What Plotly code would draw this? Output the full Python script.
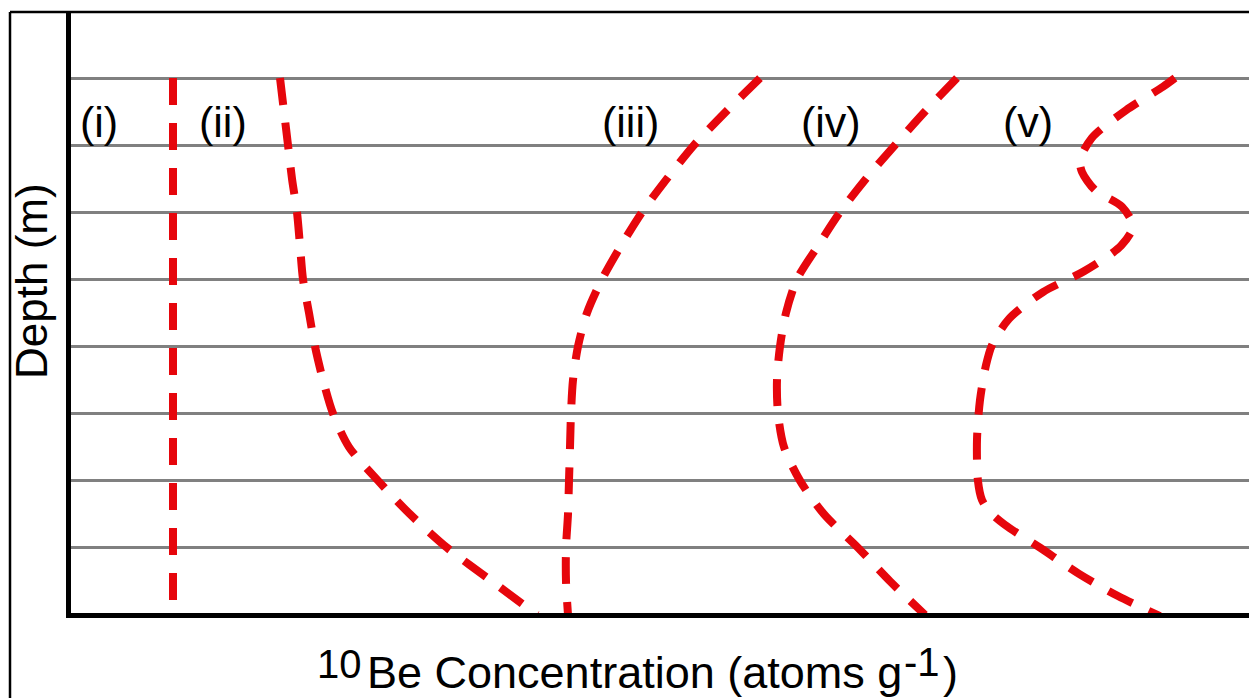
import plotly.graph_objects as go

# ---------------- data (depth in grid units, concentration in arbitrary units) ----------------
depth_i = [0, 7.79]
conc_i = [1.04, 1.04]

depth_half = [0, 0.5, 1, 1.5, 2, 2.5, 3, 3.5, 4, 4.5, 5, 5.5, 6, 6.5, 7, 7.5, 8]
conc_ii = [2.11, 2.15, 2.19, 2.23, 2.28, 2.31, 2.34, 2.40, 2.46, 2.54, 2.64, 2.80, 3.09, 3.41, 3.78, 4.23, 4.68]
conc_iii = [6.91, 6.57, 6.25, 5.98, 5.73, 5.52, 5.33, 5.18, 5.09, 5.04, 5.02, 5.01, 5.00, 4.99, 4.97, 4.97, 4.99]
conc_iv = [8.88, 8.56, 8.26, 7.97, 7.71, 7.49, 7.28, 7.17, 7.11, 7.08, 7.09, 7.15, 7.31, 7.55, 7.89, 8.21, 8.56]

depth_v = [0.00, 0.13, 0.48, 0.89, 1.22, 1.40, 1.67, 1.92, 2.21, 2.50, 2.88, 3.19, 3.59, 3.98, 4.28,
           4.80, 5.39, 6.01, 6.29, 6.47, 6.66, 7.00, 7.39, 7.72, 8.02]
conc_v = [11.06, 10.94, 10.57, 10.23, 10.11, 10.13, 10.26, 10.53, 10.64, 10.52, 10.15, 9.74, 9.40, 9.23, 9.17,
          9.11, 9.08, 9.09, 9.13, 9.21, 9.36, 9.71, 10.10, 10.49, 10.91]

curve_labels = ["(i)", "(ii)", "(iii)", "(iv)", "(v)"]
label_x = [0.30, 1.54, 5.61, 7.62, 9.59]
label_depth = 0.66
grid_depths = [0, 1, 2, 3, 4, 5, 6, 7]

RED = "rgb(230,6,12)"
FONT = "Liberation Sans, Arial, sans-serif"

W, H = 1249, 698
L, R, T, B = 71, 0, 12, 85  # plot area: x 71..1249, y 12..613


def px_x(px):
    return (px - L) / (W - L - R)


def px_y(py):
    return (H - B - py) / (H - T - B)


fig = go.Figure()
series = [
    (conc_i, depth_i),
    (conc_ii, depth_half),
    (conc_iii, depth_half),
    (conc_iv, depth_half),
    (conc_v, depth_v),
]
for xs, ys in series:
    fig.add_trace(go.Scatter(
        x=xs, y=ys, mode="lines",
        line=dict(color=RED, width=8, dash="27px,18px", shape="spline", smoothing=0.8),
        hoverinfo="skip", showlegend=False,
    ))

for lab, lx in zip(curve_labels, label_x):
    fig.add_annotation(x=lx, y=label_depth, xref="x", yref="y", text=lab, showarrow=False,
                       font=dict(family=FONT, size=43, color="black"),
                       xanchor="center", yanchor="middle")

# y-axis title
fig.add_annotation(x=px_x(31), y=px_y(281), xref="paper", yref="paper", text="Depth (m)",
                   textangle=-90, showarrow=False, font=dict(family=FONT, size=44, color="black"),
                   xanchor="center", yanchor="middle")

# x-axis title pieces
fig.add_annotation(x=px_x(364), y=px_y(664), xref="paper", yref="paper", text="10",
                   showarrow=False, font=dict(family=FONT, size=40, color="black"),
                   xanchor="right", yanchor="middle")
fig.add_annotation(x=px_x(634), y=px_y(672), xref="paper", yref="paper",
                   text="Be Concentration (atoms g", showarrow=False,
                   font=dict(family=FONT, size=45, color="black"),
                   xanchor="center", yanchor="middle")
fig.add_annotation(x=px_x(902), y=px_y(662), xref="paper", yref="paper", text="-1",
                   showarrow=False, font=dict(family=FONT, size=40, color="black"),
                   xanchor="left", yanchor="middle")
fig.add_annotation(x=px_x(941), y=px_y(672), xref="paper", yref="paper", text=")",
                   showarrow=False, font=dict(family=FONT, size=45, color="black"),
                   xanchor="left", yanchor="middle")

# outer frame (left and top edges of the original figure box)
fig.add_shape(type="line", xref="paper", yref="paper", x0=px_x(10), x1=px_x(10), y0=px_y(12), y1=px_y(700),
              line=dict(color="black", width=2.5))
fig.add_shape(type="line", xref="paper", yref="paper", x0=px_x(10), x1=px_x(1250), y0=px_y(12), y1=px_y(12),
              line=dict(color="black", width=2.5))

fig.update_layout(
    width=W, height=H,
    margin=dict(l=L, r=R, t=T, b=B),
    paper_bgcolor="white", plot_bgcolor="white",
    xaxis=dict(range=[0.02, 11.80], showgrid=False, zeroline=False, showticklabels=False, ticks="",
               showline=True, linecolor="black", linewidth=5),
    yaxis=dict(range=[7.973, -0.984], tickvals=grid_depths, showgrid=True, gridcolor="#808080",
               gridwidth=3, zeroline=False, showticklabels=False, ticks="",
               showline=True, linecolor="black", linewidth=5),
)

fig.write_html("out.html")
